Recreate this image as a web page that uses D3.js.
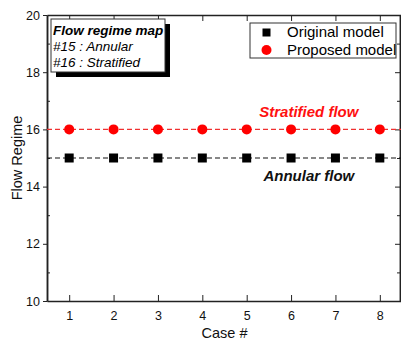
<!DOCTYPE html>
<html>
<head>
<meta charset="utf-8">
<script src="https://cdn.jsdelivr.net/npm/d3@7"></script>
<style>
  body { margin: 0; background: #fff; }
  svg text { font-family: "Liberation Sans", Arial, sans-serif; }
</style>
</head>
<body>
<div class="chart"></div>
<script>
// data
var cases = [1, 2, 3, 4, 5, 6, 7, 8];
var originalModel = [15, 15, 15, 15, 15, 15, 15, 15];
var proposedModel = [16, 16, 16, 16, 16, 16, 16, 16];
var yMajorTicks = [10, 12, 14, 16, 18, 20];
var yMinorTicks = [11, 13, 15, 17, 19];
var mapLines = ["#15 : Annular", "#16 : Stratified"];

var svgWidth = 401;
var svgHeight = 343;
var fontFamily = "'Liberation Sans', Arial, sans-serif";

var margin = { top: 15, right: -1, bottom: 42, left: 47 };
var width = svgWidth - margin.left - margin.right;
var height = svgHeight - margin.top - margin.bottom;

var svg = d3.select(".chart")
  .append("svg")
  .attr("width", svgWidth)
  .attr("height", svgHeight)
  .style("font-family", fontFamily);

var chartGroup = svg.append("g")
  .attr("transform", `translate(${margin.left}, ${margin.top})`);

// scales
var xScale = d3.scaleLinear().domain([0.5, 8.5]).range([0, width]);
var yScale = d3.scaleLinear().domain([10, 20]).range([height, 0]);

var axisColor = "#222";

// bottom axis, ticks point inward
var xAxis = chartGroup.append("g")
  .attr("transform", `translate(0, ${height})`)
  .call(d3.axisBottom(xScale).tickValues(cases).tickSizeInner(-6).tickSizeOuter(0).tickPadding(10).tickFormat(d3.format("d")));

// top axis, no labels
var xTop = chartGroup.append("g")
  .call(d3.axisTop(xScale).tickValues(cases).tickSizeInner(-6).tickSizeOuter(0).tickFormat(""));

// left axis: majors outward, minors inward
var yAxis = chartGroup.append("g")
  .call(d3.axisLeft(yScale).tickValues(yMajorTicks).tickSizeInner(4).tickSizeOuter(0).tickPadding(3));
var yMinor = chartGroup.append("g")
  .call(d3.axisLeft(yScale).tickValues(yMinorTicks).tickSizeInner(-3).tickSizeOuter(0).tickFormat(""));

// right axis, ticks inward
var yRight = chartGroup.append("g")
  .attr("transform", `translate(${width - 2}, 0)`)
  .call(d3.axisRight(yScale).tickValues(yMajorTicks).tickSizeInner(-5).tickSizeOuter(0).tickFormat(""));
var yRightMinor = chartGroup.append("g")
  .attr("transform", `translate(${width - 2}, 0)`)
  .call(d3.axisRight(yScale).tickValues(yMinorTicks).tickSizeInner(-3).tickSizeOuter(0).tickFormat(""));

[xAxis, xTop, yAxis, yMinor, yRight, yRightMinor].forEach(function(g) {
  g.attr("font-family", fontFamily);
  g.selectAll("path").attr("stroke", axisColor).attr("stroke-width", 1.5);
  g.selectAll("line").attr("stroke", axisColor).attr("stroke-width", 1);
  g.selectAll("text")
    .attr("fill", "#111")
    .style("font-size", "12.5px")
    .style("font-family", fontFamily);
});

// dashed lines across the whole frame
var xDom = xScale.domain();
var lineGen = d3.line().x(d => xScale(d[0])).y(d => yScale(d[1]));

chartGroup.append("path")
  .datum([[xDom[0], proposedModel[0]], [xDom[1], proposedModel[proposedModel.length - 1]]])
  .attr("d", lineGen)
  .attr("fill", "none")
  .attr("stroke", "#f03030")
  .attr("stroke-width", 1.2)
  .attr("stroke-dasharray", "5,3");

chartGroup.append("path")
  .datum([[xDom[0], originalModel[0]], [xDom[1], originalModel[originalModel.length - 1]]])
  .attr("d", lineGen)
  .attr("fill", "none")
  .attr("stroke", "#111")
  .attr("stroke-width", 1.2)
  .attr("stroke-dasharray", "5,3");

// markers
chartGroup.selectAll(".orig")
  .data(cases)
  .enter()
  .append("rect")
  .attr("class", "orig")
  .attr("x", (d, i) => xScale(d) - 4.5)
  .attr("y", (d, i) => yScale(originalModel[i]) - 4.5)
  .attr("width", 9)
  .attr("height", 9)
  .attr("fill", "#000");

chartGroup.selectAll(".prop")
  .data(cases)
  .enter()
  .append("circle")
  .attr("class", "prop")
  .attr("cx", (d, i) => xScale(d))
  .attr("cy", (d, i) => yScale(proposedModel[i]))
  .attr("r", 5)
  .attr("fill", "#ff0000");

// line labels
chartGroup.append("text")
  .attr("x", xScale(6.4))
  .attr("y", yScale(16) - 12)
  .attr("text-anchor", "middle")
  .attr("fill", "#ff1010")
  .style("font-size", "15px")
  .style("font-weight", "bold")
  .style("font-style", "italic")
  .text("Stratified flow");

chartGroup.append("text")
  .attr("x", xScale(6.4))
  .attr("y", yScale(15) + 23)
  .attr("text-anchor", "middle")
  .attr("fill", "#111")
  .style("font-size", "15px")
  .style("font-weight", "bold")
  .style("font-style", "italic")
  .text("Annular flow");

// axis titles
svg.append("text")
  .attr("x", margin.left + width / 2)
  .attr("y", 338)
  .attr("text-anchor", "middle")
  .style("font-size", "14.5px")
  .attr("fill", "#111")
  .text("Case #");

svg.append("text")
  .attr("transform", "rotate(-90)")
  .attr("x", -(margin.top + height / 2))
  .attr("y", 22)
  .attr("text-anchor", "middle")
  .style("font-size", "14.5px")
  .attr("fill", "#111")
  .text("Flow Regime");

// flow regime map box with shadow
svg.append("rect").attr("x", 56).attr("y", 24).attr("width", 114).attr("height", 53).attr("fill", "#000");
svg.append("rect").attr("x", 51).attr("y", 19).attr("width", 114).attr("height", 53)
  .attr("fill", "#fff").attr("stroke", "#333").attr("stroke-width", 1);

svg.append("text")
  .attr("x", 53).attr("y", 35)
  .style("font-size", "13.5px").style("font-weight", "bold").style("font-style", "italic")
  .text("Flow regime map");

svg.selectAll(".maptext")
  .data(mapLines)
  .enter()
  .append("text")
  .attr("class", "maptext")
  .attr("x", 53)
  .attr("y", (d, i) => 51 + i * 16)
  .style("font-size", "13.5px").style("font-style", "italic")
  .text(d => d);

// legend
svg.append("rect").attr("x", 250).attr("y", 23).attr("width", 146).attr("height", 35)
  .attr("fill", "#fff").attr("stroke", "#333").attr("stroke-width", 1);

svg.append("rect").attr("x", 262.5).attr("y", 28.5).attr("width", 8).attr("height", 8).attr("fill", "#000");
svg.append("text").attr("x", 287).attr("y", 37).style("font-size", "15px").text("Original model");

svg.append("circle").attr("cx", 266.5).attr("cy", 50).attr("r", 5).attr("fill", "#ff0000");
svg.append("text").attr("x", 287).attr("y", 55).style("font-size", "15px").text("Proposed model");
</script>
</body>
</html>
